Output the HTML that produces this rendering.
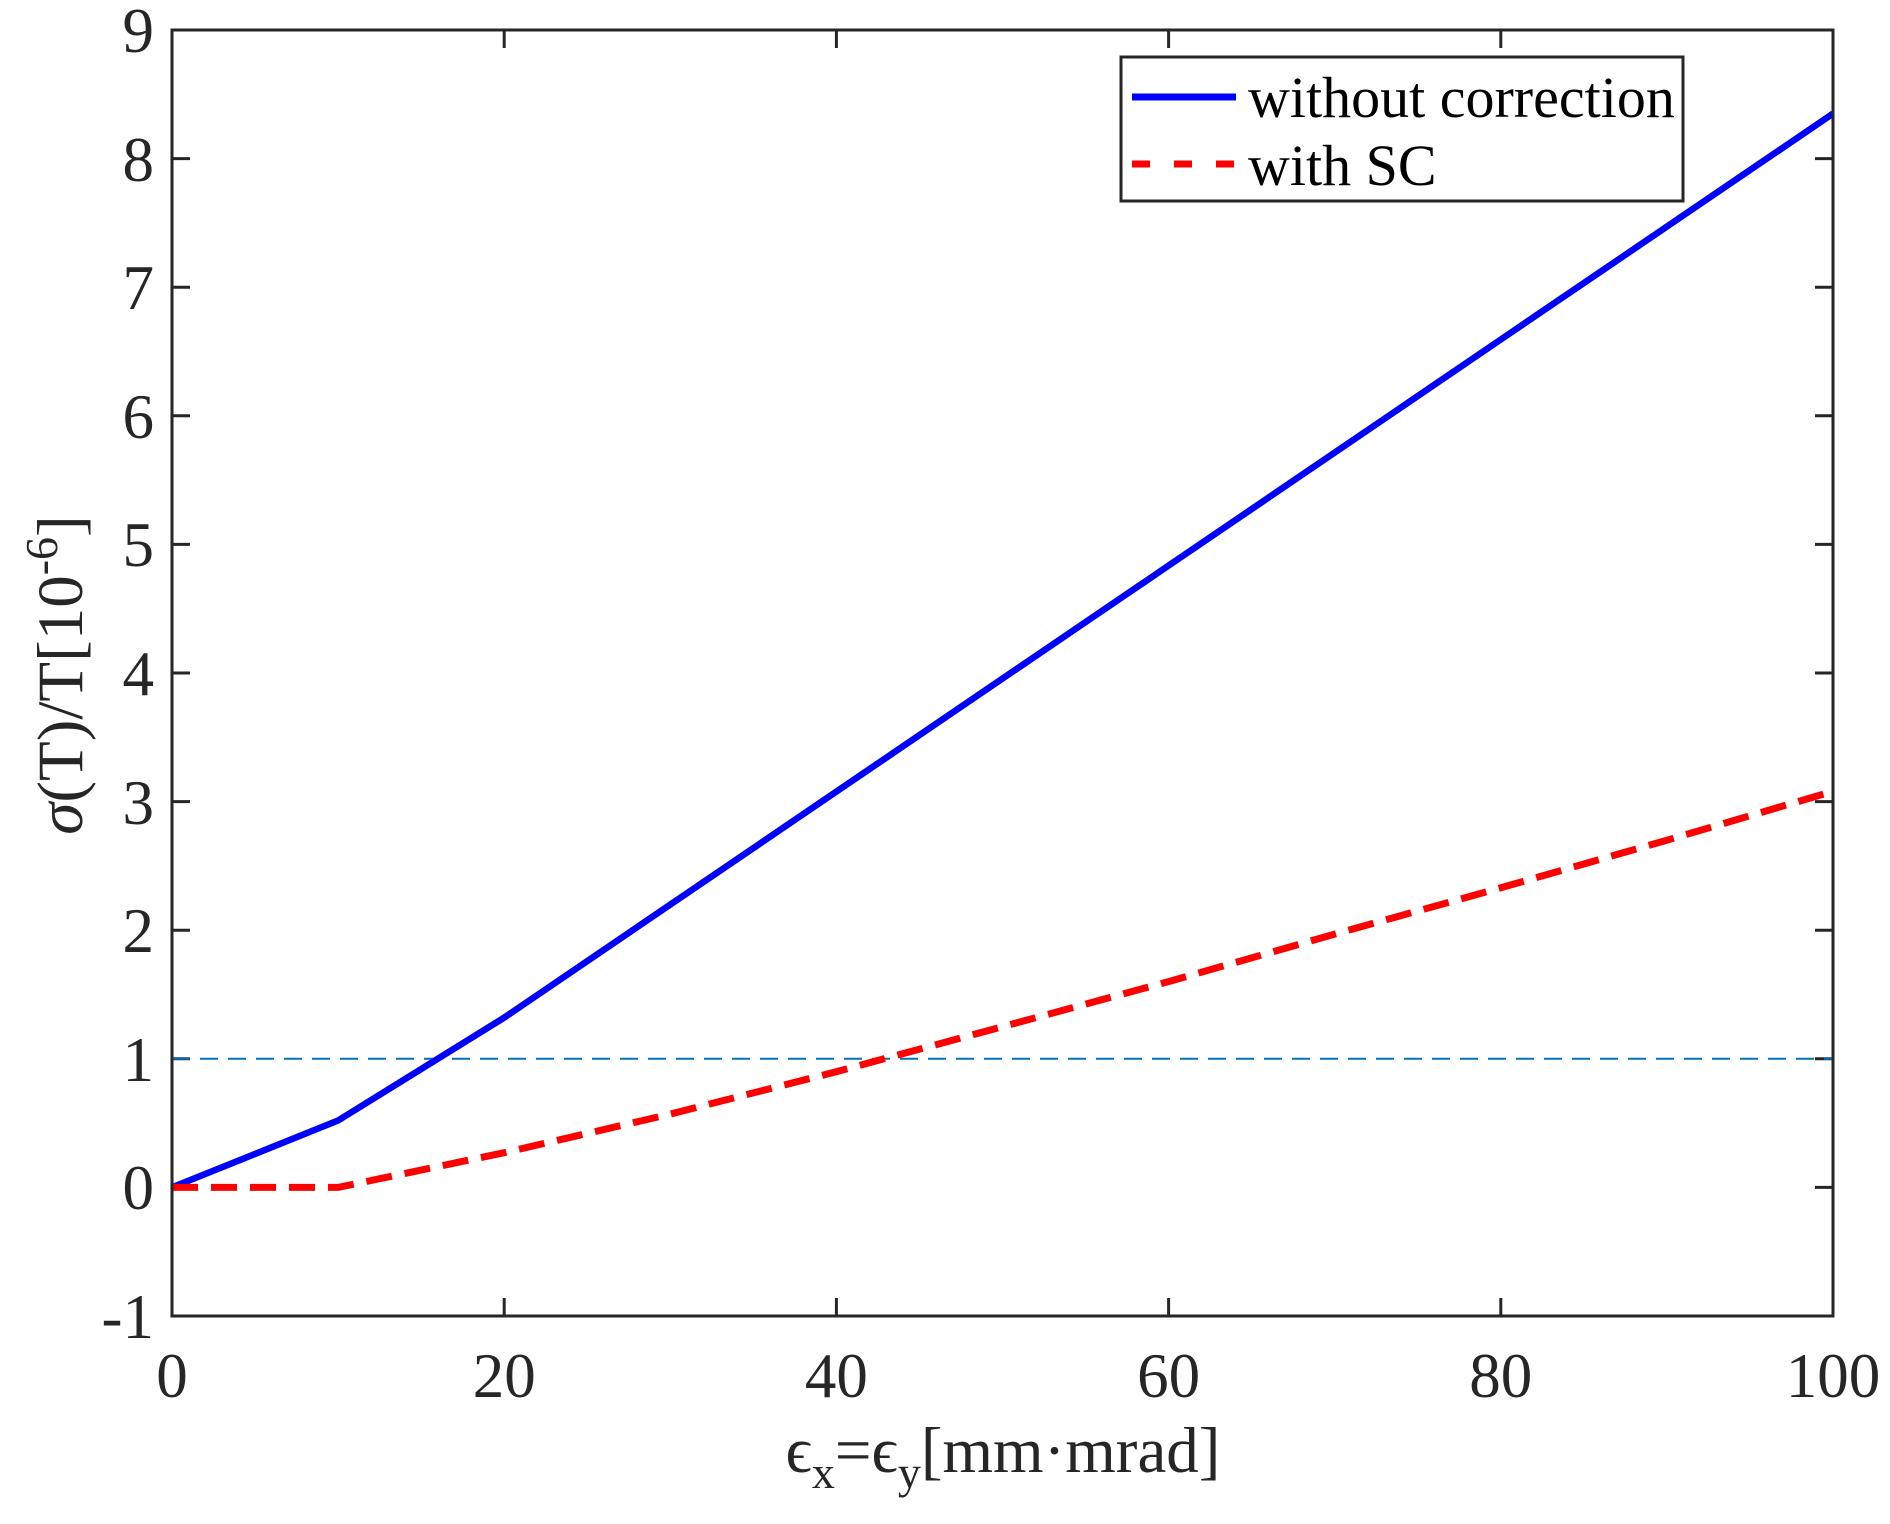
<!DOCTYPE html>
<html><head><meta charset="utf-8"><style>body{margin:0;background:#fff}svg{display:block}</style></head><body>
<svg width="1890" height="1524" viewBox="0 0 1890 1524" xmlns="http://www.w3.org/2000/svg" font-family="Liberation Serif, serif" fill="#262626">
<rect width="1890" height="1524" fill="#fff"/>
<g stroke="#262626" stroke-width="3">
<line x1="504.2" y1="1316" x2="504.2" y2="1298"/><line x1="836.4" y1="1316" x2="836.4" y2="1298"/><line x1="1168.6" y1="1316" x2="1168.6" y2="1298"/><line x1="1500.8" y1="1316" x2="1500.8" y2="1298"/>
<line x1="504.2" y1="30" x2="504.2" y2="48"/><line x1="836.4" y1="30" x2="836.4" y2="48"/><line x1="1168.6" y1="30" x2="1168.6" y2="48"/><line x1="1500.8" y1="30" x2="1500.8" y2="48"/>
</g>
<g stroke="#262626" stroke-width="3">
<line x1="172" y1="1187.4" x2="190" y2="1187.4"/><line x1="172" y1="1058.8" x2="190" y2="1058.8"/><line x1="172" y1="930.2" x2="190" y2="930.2"/><line x1="172" y1="801.6" x2="190" y2="801.6"/><line x1="172" y1="673" x2="190" y2="673"/><line x1="172" y1="544.4" x2="190" y2="544.4"/><line x1="172" y1="415.8" x2="190" y2="415.8"/><line x1="172" y1="287.2" x2="190" y2="287.2"/><line x1="172" y1="158.6" x2="190" y2="158.6"/>
<line x1="1833" y1="1187.4" x2="1815" y2="1187.4"/><line x1="1833" y1="1058.8" x2="1815" y2="1058.8"/><line x1="1833" y1="930.2" x2="1815" y2="930.2"/><line x1="1833" y1="801.6" x2="1815" y2="801.6"/><line x1="1833" y1="673" x2="1815" y2="673"/><line x1="1833" y1="544.4" x2="1815" y2="544.4"/><line x1="1833" y1="415.8" x2="1815" y2="415.8"/><line x1="1833" y1="287.2" x2="1815" y2="287.2"/><line x1="1833" y1="158.6" x2="1815" y2="158.6"/>
</g>
<line x1="172" y1="1058.8" x2="1833" y2="1058.8" stroke="#0072BD" stroke-width="2" stroke-dasharray="18,10"/>
<polyline fill="none" stroke="#0000ff" stroke-width="6.5" points="172,1187.4 338.1,1120.5 504.2,1017.6 670.3,904.6 836.4,791.6 1002.5,678.6 1168.6,565.6 1334.7,452.6 1500.8,339.5 1666.9,226.6 1833,113.6"/>
<polyline fill="none" stroke="#ff0000" stroke-width="7" stroke-dasharray="26,13" points="172,1187.4 338.1,1187.4 504.2,1152.7 670.3,1114.1 836.4,1071.7 1002.5,1026.7 1168.6,981.6 1334.7,934.1 1500.8,887.8 1666.9,840.2 1833,791.3"/>
<rect x="172" y="30" width="1661" height="1286" fill="none" stroke="#262626" stroke-width="3"/>
<g font-size="63" text-anchor="end">
<text x="154" y="1338">-1</text><text x="154" y="1209">0</text><text x="154" y="1081">1</text><text x="154" y="952">2</text><text x="154" y="824">3</text><text x="154" y="695">4</text><text x="154" y="566">5</text><text x="154" y="438">6</text><text x="154" y="309">7</text><text x="154" y="181">8</text><text x="154" y="52">9</text>
</g>
<g font-size="63" text-anchor="middle">
<text x="172" y="1397">0</text><text x="504.2" y="1397">20</text><text x="836.4" y="1397">40</text><text x="1168.6" y="1397">60</text><text x="1500.8" y="1397">80</text><text x="1833" y="1397">100</text>
</g>
<text x="1003" y="1472" font-size="65" text-anchor="middle">ϵ<tspan font-size="46" dy="16">x</tspan><tspan dy="-16">=ϵ</tspan><tspan font-size="46" dy="16">y</tspan><tspan dy="-16">[mm·mrad]</tspan></text>
<text transform="translate(82,675) rotate(-90)" font-size="65" text-anchor="middle"><tspan font-style="italic">σ</tspan>(T)/T[10<tspan font-size="46" dy="-25">-6</tspan><tspan dy="25">]</tspan></text>
<rect x="1121" y="57" width="562" height="144" fill="#fff" stroke="#262626" stroke-width="3"/>
<line x1="1132" y1="97" x2="1236" y2="97" stroke="#0000ff" stroke-width="7"/>
<line x1="1132" y1="164" x2="1236" y2="164" stroke="#ff0000" stroke-width="7" stroke-dasharray="18,24"/>
<g font-size="58" fill="#000"><text x="1248" y="117">without correction</text><text x="1248" y="185">with SC</text></g>
</svg>
</body></html>
